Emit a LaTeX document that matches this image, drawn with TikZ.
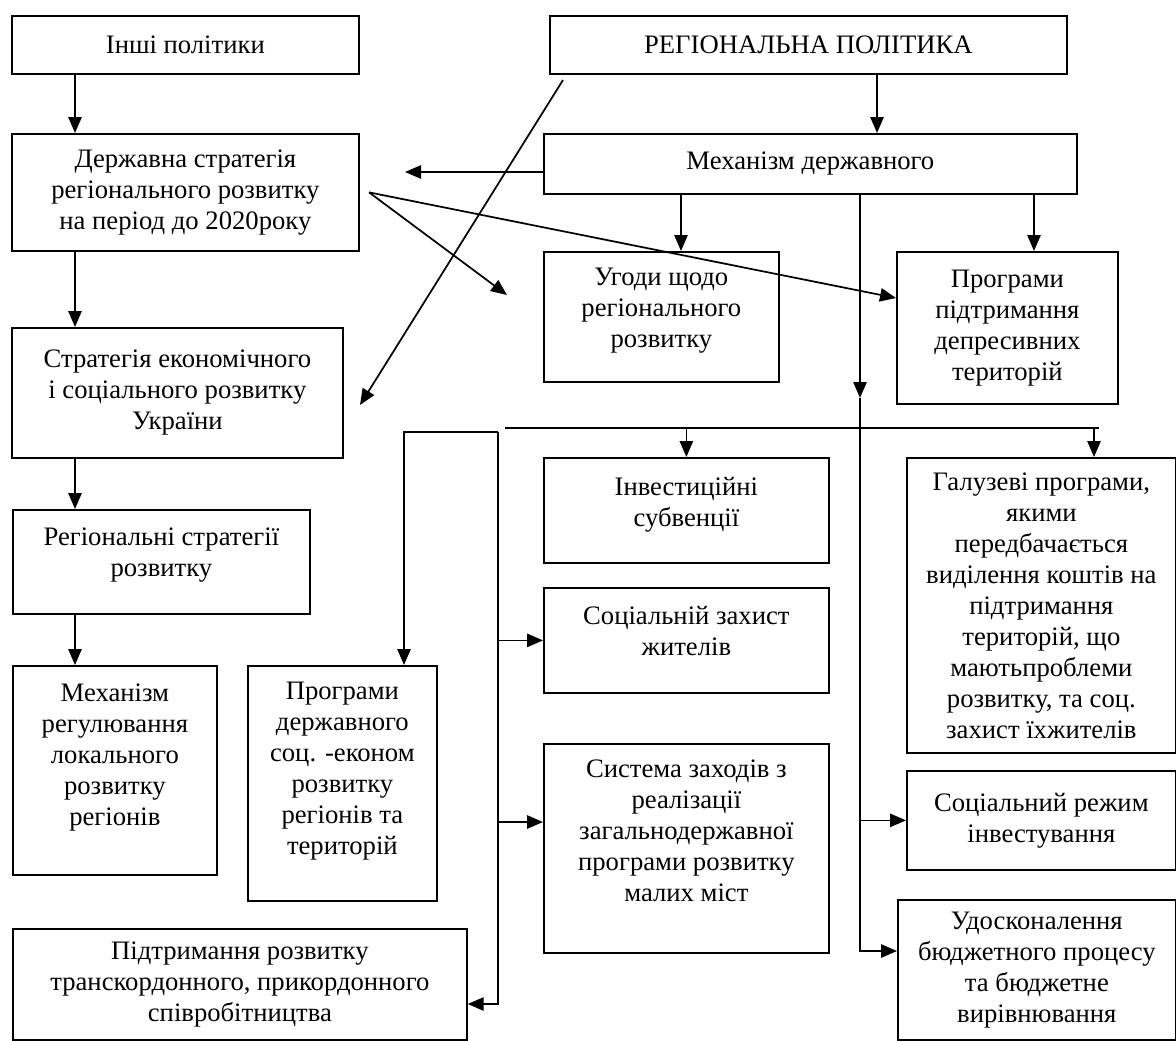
\documentclass[tikz,border=0pt]{standalone}
\usepackage{fontspec}
\setmainfont{Liberation Serif}
\usetikzlibrary{arrows.meta}
\tikzset{
  box/.style={draw, line width=1.3pt, inner sep=0pt, align=center, anchor=north west,
    font=\fontsize{20}{23.25}\selectfont},
  sz/.style 2 args={minimum width=#1*0.75pt, minimum height=#2*0.75pt},
  arr/.style={line width=1.3pt, -{Triangle[length=12pt,width=10pt]}},
  ln/.style={line width=1.3pt}
}
\begin{document}
\begin{tikzpicture}[x=0.75pt,y=-0.75pt]
\useasboundingbox (0,0) rectangle (1176,1040);

\node[box, sz={347}{58}] (inshi) at (11,15) {Інші політики};
\node[box, sz={517}{58}] (regpol) at (549,15) {РЕГІОНАЛЬНА ПОЛІТИКА};
\node[box, sz={347}{117}] (derzh) at (11,133) {Державна стратегія\\регіонального розвитку\\на період до 2020року};
\node[box, sz={533}{60}] (mekh) at (543,133) {Механізм державного};
\node[box, sz={331}{130}] (strat) at (11,327) {Стратегія економічного\\і соціального розвитку\\України};
\node[box, sz={235}{130}] (ugody) at (543,251) {Угоди щодо\\регіонального\\розвитку\\[-9pt]\mbox{}};
\node[box, sz={221}{152}] (prohr) at (896,251) {Програми\\підтримання\\депресивних\\територій};
\node[box, sz={297}{104}] (region) at (12,509) {Регіональні стратегії\\розвитку\\[-9pt]\mbox{}};
\node[box, sz={285}{105}] (invest) at (543,457) {Інвестиційні\\субвенції\\[-11pt]\mbox{}};
\node[box, sz={269}{295}] (haluz) at (906,457) {Галузеві програми,\\якими\\передбачається\\виділення коштів на\\підтримання\\територій, що\\маютьпроблеми\\розвитку, та соц.\\захист їхжителів};
\node[box, sz={285}{105}] (zakhyst) at (543,587) {Соціальній захист\\жителів\\[-9pt]\mbox{}};
\node[box, sz={204}{209}] (mekhreg) at (12,665) {Механізм\\регулювання\\локального\\розвитку\\регіонів\\ \mbox{}};
\node[box, sz={189}{235}] (prohrderzh) at (247,665) {Програми\\державного\\соц. -економ\\розвитку\\регіонів та\\територій\\ \mbox{}};
\node[box, sz={285}{209}] (systema) at (543,743) {Система заходів з\\реалізації\\загальнодержавної\\програми розвитку\\малих міст\\[3pt]\mbox{}};
\node[box, sz={269}{99}] (rezhym) at (906,770) {Соціальний режим\\інвестування};
\node[box, sz={454}{111}] (pidtr) at (12,928) {Підтримання розвитку\\транскордонного, прикордонного\\співробітництва};
\node[box, sz={278}{140}] (udoskon) at (897,899) {Удосконалення\\бюджетного процесу\\та бюджетне\\вирівнювання};

\coordinate (c1) at (75,0);
\coordinate (c2) at (877,0);
\coordinate (c3) at (681,0);
\coordinate (c4) at (1034,0);
\draw[arr] (inshi.south -| c1) -- (derzh.north -| c1);
\draw[arr] (derzh.south -| c1) -- (strat.north -| c1);
\draw[arr] (strat.south -| c1) -- (region.north -| c1);
\draw[arr] (region.south -| c1) -- (mekhreg.north -| c1);
\draw[arr] (regpol.south -| c2) -- (mekh.north -| c2);
\draw[arr] (mekh.south -| c3) -- (ugody.north -| c3);
\draw[arr] (mekh.south -| c4) -- (prohr.north -| c4);

\coordinate (d0) at (563,80);
\coordinate (d1) at (360,405);
\draw[arr] (d0) -- (d1);
\coordinate (l1) at (405,172);
\draw[arr] (mekh.west |- l1) -- (l1);
\coordinate (t1) at (507,295);
\coordinate (t2) at (896,298);
\draw[arr] ([xshift=7pt]derzh.east) -- (t1);
\draw[arr] ([xshift=7pt]derzh.east) -- (t2);

\coordinate (m1) at (860,398);
\coordinate (m2) at (860,951);
\draw[arr] (mekh.south -| m1) -- (m1);
\draw[arr] (m1) -- (m2) -- (m2 -| udoskon.west);
\draw[arr] (m1 |- rezhym.west) -- (rezhym.west);

\coordinate (h0) at (505,428);
\coordinate (h1) at (1099,428);
\coordinate (g0) at (1094,428);
\draw[ln] (h0) -- (h1);
\draw[arr] (h0 -| invest.north) -- (invest.north);
\draw[arr] (g0) -- (g0 |- haluz.north);

\coordinate (b0) at (498,432);
\coordinate (b1) at (404,432);
\coordinate (b2) at (498,1004);
\coordinate (b3) at (498,822);
\draw[arr] (b0) -- (b1) -- (b1 |- prohrderzh.north);
\draw[arr] (b0) -- (b2) -- (b2 -| pidtr.east);
\draw[arr] (b0 |- zakhyst.west) -- (zakhyst.west);
\draw[arr] (b3) -- (b3 -| systema.west);
\end{tikzpicture}
\end{document}
